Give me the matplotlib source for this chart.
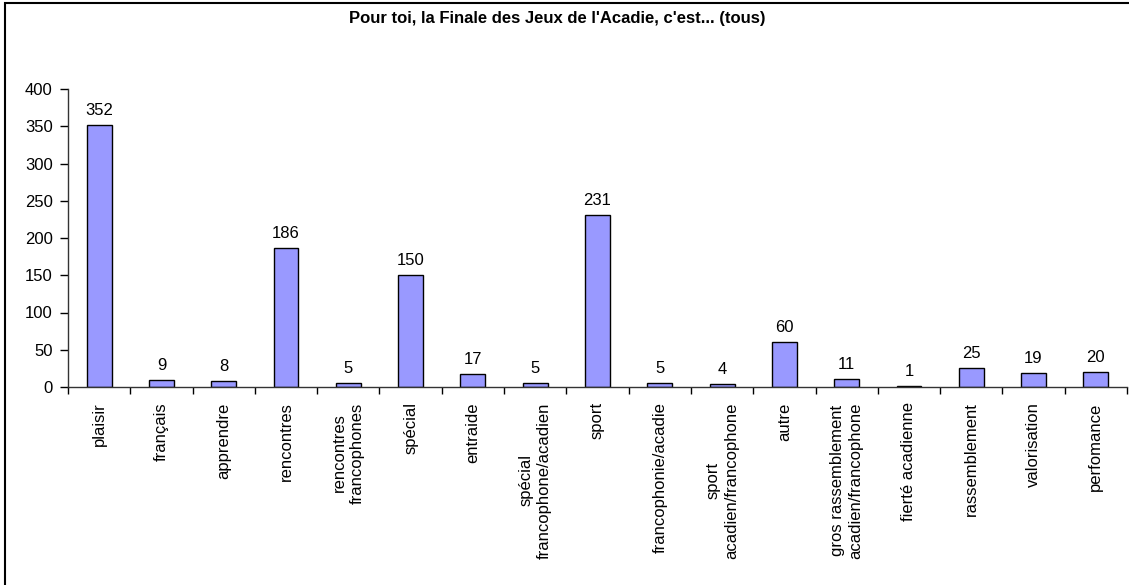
import matplotlib
matplotlib.use("Agg")
import matplotlib.pyplot as plt
import numpy as np
from matplotlib.patches import Rectangle

plt.rcParams['font.family'] = ['Liberation Sans', 'DejaVu Sans']

# categories and counts
categories = ["plaisir", "français", "apprendre", "rencontres",
              "rencontres\nfrancophones", "spécial", "entraide",
              "spécial\nfrancophone/acadien", "sport", "francophonie/acadie",
              "sport\nacadien/francophone", "autre",
              "gros rassemblement\nacadien/francophone", "fierté acadienne",
              "rassemblement", "valorisation", "perfomance"]
counts = [352, 9, 8, 186, 5, 150, 17, 5, 231, 5, 4, 60, 11, 1, 25, 19, 20]
yticks = [0, 50, 100, 150, 200, 250, 300, 350, 400]

W, H = 1129, 585
fig = plt.figure(figsize=(W / 100, H / 100), dpi=100)

# frame around the whole chart (right/bottom edges run off the image)
fig.patches.append(Rectangle((4.5 / W, -0.05), 1.2, 1.05 - 3 / H, transform=fig.transFigure,
                             fill=False, edgecolor='black', linewidth=1.5, clip_on=False))

ax = fig.add_axes([68 / W, 1 - 387 / H, (1127 - 68) / W, (387 - 89) / H])

x = np.arange(len(categories))
bars = ax.bar(x, counts, width=0.4, color='#9999FF', edgecolor='black', linewidth=1.0)

for xi, v in zip(x, counts):
    ax.annotate(str(v), (xi, v), xytext=(0, 5), textcoords='offset points',
                ha='center', va='bottom', fontsize=12)

ax.set_xlim(-0.5, len(categories) - 0.5)
ax.set_ylim(0, 400)
ax.set_yticks(yticks)
ax.tick_params(axis='y', labelsize=12, length=6, width=1, direction='out', pad=5)

ax.set_xticks(x)
ax.set_xticklabels(categories, rotation=90, fontsize=12, ha='center', va='top',
                   multialignment='center', linespacing=1.3)
ax.set_xticks(np.arange(len(categories) + 1) - 0.5, minor=True)
ax.tick_params(axis='x', which='major', length=0, pad=11)
ax.tick_params(axis='x', which='minor', length=5, width=1, direction='out')

for s in ['top', 'right']:
    ax.spines[s].set_visible(False)
for s in ['left', 'bottom']:
    ax.spines[s].set_color('#333333')
    ax.spines[s].set_linewidth(1)

fig.text(557 / W, 1 - 18 / H, "Pour toi, la Finale des Jeux de l'Acadie, c'est... (tous)",
         ha='center', va='center', fontsize=12, fontweight='bold')

fig.savefig("out.png", dpi=100)
